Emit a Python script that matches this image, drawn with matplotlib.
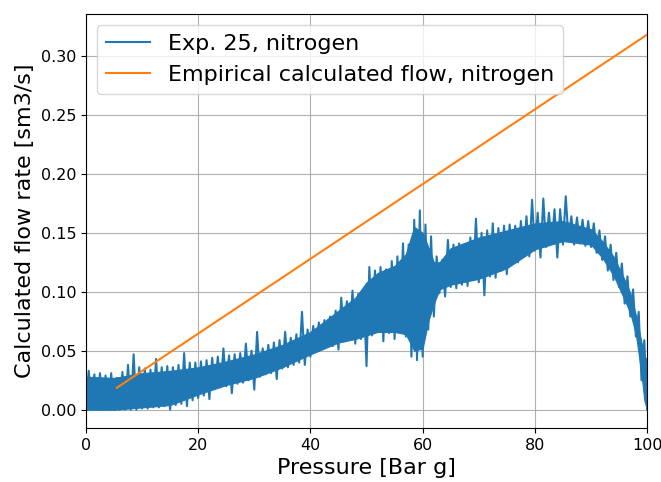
import numpy as np
import matplotlib
matplotlib.use("Agg")
import matplotlib.pyplot as plt

# Measured flow: lower and upper readings at each integer pressure (bar g)
pressure = np.arange(0, 101)
flow_low = [
    0.000, 0.000, 0.000, 0.000, 0.000, 0.000, 0.000, 0.000, 0.000, 0.000,
    0.001, 0.001, 0.002, 0.002, 0.003, 0.000, 0.004, 0.005, 0.003, 0.008,
    0.010, 0.012, 0.009, 0.018, 0.019, 0.020, 0.014, 0.022, 0.023, 0.025,
    0.017, 0.028, 0.030, 0.031, 0.026, 0.035, 0.036, 0.038, 0.040, 0.038,
    0.045, 0.049, 0.052, 0.055, 0.054, 0.051, 0.058, 0.060, 0.056, 0.060,
    0.037, 0.063, 0.066, 0.058, 0.065, 0.060, 0.068, 0.062, 0.045, 0.042,
    0.045, 0.068, 0.079, 0.099, 0.096, 0.104, 0.103, 0.106, 0.105, 0.110,
    0.108, 0.097, 0.113, 0.112, 0.118, 0.115, 0.127, 0.125, 0.133, 0.130,
    0.135, 0.129, 0.138, 0.141, 0.129, 0.140, 0.144, 0.140, 0.141, 0.139,
    0.138, 0.133, 0.127, 0.118, 0.110, 0.104, 0.090, 0.079, 0.062, 0.025,
    0.000,
]
flow_high = [
    0.033, 0.030, 0.031, 0.029, 0.031, 0.027, 0.032, 0.038, 0.047, 0.036,
    0.035, 0.034, 0.043, 0.036, 0.037, 0.036, 0.038, 0.048, 0.040, 0.040,
    0.041, 0.042, 0.044, 0.045, 0.052, 0.046, 0.047, 0.048, 0.056, 0.050,
    0.066, 0.052, 0.055, 0.057, 0.059, 0.066, 0.061, 0.064, 0.083, 0.068,
    0.071, 0.074, 0.076, 0.079, 0.084, 0.095, 0.092, 0.101, 0.098, 0.097,
    0.121, 0.118, 0.121, 0.119, 0.126, 0.130, 0.141, 0.140, 0.161, 0.169,
    0.157, 0.147, 0.130, 0.127, 0.144, 0.140, 0.141, 0.139, 0.146, 0.162,
    0.150, 0.152, 0.158, 0.154, 0.156, 0.157, 0.156, 0.160, 0.164, 0.178,
    0.167, 0.179, 0.167, 0.170, 0.170, 0.181, 0.164, 0.163, 0.161, 0.160,
    0.158, 0.152, 0.147, 0.140, 0.133, 0.124, 0.113, 0.102, 0.083, 0.059,
    0.043,
]

# Dense core of the measured signal (where most samples lie)
core_pressure = [0, 5, 10, 15, 20, 25, 30, 35, 40, 45, 48, 50, 52, 55, 57,
                 58.5, 60, 61, 62, 63, 65, 70, 75, 80, 85, 90, 92, 94, 96,
                 97, 98, 99, 99.5, 100]
core_low = [0.000, 0.000, 0.002, 0.004, 0.013, 0.021, 0.027, 0.036, 0.047,
            0.057, 0.060, 0.063, 0.066, 0.066, 0.064, 0.050, 0.052, 0.075,
            0.090, 0.102, 0.106, 0.111, 0.120, 0.136, 0.143, 0.140, 0.129,
            0.114, 0.093, 0.082, 0.064, 0.030, 0.008, 0.000]
core_high = [0.028, 0.027, 0.031, 0.033, 0.036, 0.041, 0.047, 0.055, 0.066,
             0.084, 0.095, 0.108, 0.116, 0.122, 0.132, 0.155, 0.150, 0.138,
             0.125, 0.125, 0.137, 0.146, 0.152, 0.158, 0.160, 0.153, 0.143,
             0.130, 0.110, 0.099, 0.080, 0.057, 0.045, 0.040]

# Empirical correlation line (end points)
emp_pressure = [5.5, 100.0]
emp_flow = [0.0186, 0.318]

# Interleave low/high readings into one oscillating trace
exp_x = np.empty(2 * len(pressure))
exp_y = np.empty(2 * len(pressure))
exp_x[0::2] = pressure
exp_x[1::2] = np.minimum(pressure + 0.5, 100.0)
exp_y[0::2] = flow_low
exp_y[1::2] = flow_high

blue = "#1f77b4"
orange = "#ff7f0e"

fig = plt.figure(figsize=(6.61, 4.82), dpi=100)
ax = fig.add_axes([0.130, 0.112, 0.849, 0.859])

ax.fill_between(core_pressure, core_low, core_high, color=blue, lw=0.8,
                edgecolor=blue, zorder=2)
ax.plot(exp_x, exp_y, color=blue, lw=1.5, label="Exp. 25, nitrogen", zorder=2)
ax.plot(emp_pressure, emp_flow, color=orange, lw=1.5,
        label="Empirical calculated flow, nitrogen", zorder=3)

ax.set_xlim(0, 100)
ax.set_ylim(-0.0155, 0.3355)
ax.set_xticks([0, 20, 40, 60, 80, 100])
ax.set_yticks([0.00, 0.05, 0.10, 0.15, 0.20, 0.25, 0.30])
ax.tick_params(labelsize=11.5)
ax.grid(True, color="#b0b0b0", lw=0.8)
ax.set_axisbelow(True)
ax.set_xlabel("Pressure [Bar g]", fontsize=16)
ax.set_ylabel("Calculated flow rate [sm3/s]", fontsize=16)
ax.legend(loc="upper left", fontsize=16)

fig.savefig("out.png", dpi=100)
